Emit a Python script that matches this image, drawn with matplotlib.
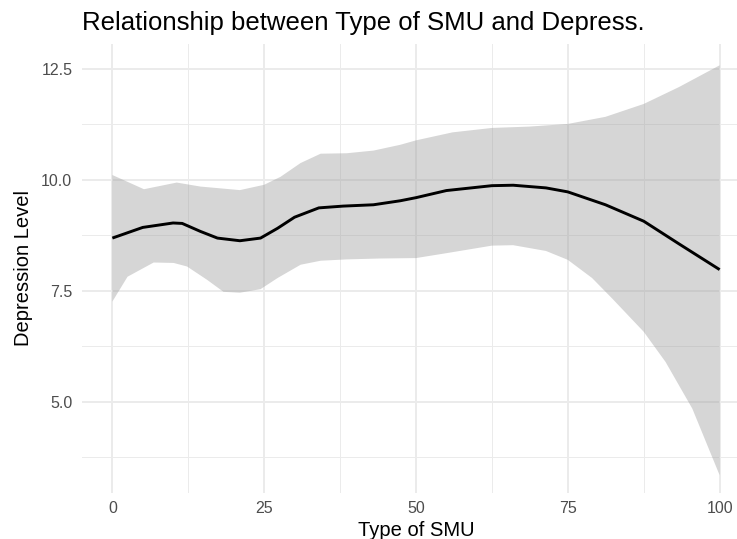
import numpy as np
import matplotlib
matplotlib.use('Agg')
import matplotlib.pyplot as plt
from matplotlib.ticker import MultipleLocator

# smooth fit
fit_x = [0, 5, 10, 11.5, 14.5, 17.3, 21, 24.4, 27.2, 30, 34, 38, 43, 47.4,
         50, 55, 62.5, 66, 71.4, 75, 81.2, 87.5, 93.3, 100]
fit_y = [8.69, 8.93, 9.03, 9.02, 8.84, 8.69, 8.63, 8.69, 8.91, 9.16, 9.37, 9.41, 9.44, 9.53,
         9.60, 9.76, 9.87, 9.88, 9.82, 9.73, 9.44, 9.07, 8.56, 7.98]

# confidence band, upper edge
upper_x = [0, 5.2, 10.6, 14.5, 21, 25, 27.7, 31, 34.3, 38.6, 43, 47.4,
           50, 56, 62.5, 68.6, 75, 81.2, 87.5, 93.3, 100]
upper_y = [10.11, 9.79, 9.94, 9.85, 9.77, 9.89, 10.07, 10.38, 10.59, 10.60, 10.66, 10.79,
           10.89, 11.07, 11.17, 11.20, 11.26, 11.42, 11.71, 12.09, 12.58]

# confidence band, lower edge
lower_x = [0, 2.5, 6.8, 10.1, 12.3, 15.6, 18.3, 21, 24.4, 27.2, 31, 34.3, 38.6, 44,
           50, 55, 62.5, 66, 71.4, 75, 79, 82.3, 87.5, 91.1, 95.5, 100]
lower_y = [7.26, 7.82, 8.14, 8.13, 8.05, 7.75, 7.48, 7.46, 7.54, 7.79, 8.09, 8.18, 8.21, 8.23,
           8.24, 8.35, 8.52, 8.53, 8.40, 8.20, 7.79, 7.33, 6.58, 5.90, 4.85, 3.35]

x_ticks = [0, 25, 50, 75, 100]
y_ticks = [5.0, 7.5, 10.0, 12.5]

plt.rcParams['font.family'] = ['Liberation Sans', 'DejaVu Sans']

fig = plt.figure(figsize=(7.37, 5.39), dpi=100)
ax = fig.add_axes([82/737, 46/539, (750-82)/737, (493-44)/539])

band_x = np.concatenate([upper_x, lower_x[::-1]])
band_y = np.concatenate([upper_y, lower_y[::-1]])
ax.fill(band_x, band_y, color='#999999', alpha=0.4, lw=0, zorder=2)
ax.plot(fit_x, fit_y, color='black', lw=2.1, zorder=3, solid_capstyle='butt',
        solid_joinstyle='round')

ax.set_xlim(-5, 105)
ax.set_ylim(2.95, 13.06)
ax.set_xticks(x_ticks)
ax.set_xticklabels([str(t) for t in x_ticks])
ax.set_yticks(y_ticks)
ax.set_yticklabels(['%.1f' % t for t in y_ticks])
ax.xaxis.set_minor_locator(MultipleLocator(12.5))
ax.yaxis.set_minor_locator(MultipleLocator(1.25))

ax.grid(which='major', color='#EBEBEB', lw=1.4, zorder=0)
ax.grid(which='minor', color='#EBEBEB', lw=0.7, zorder=0)
ax.set_axisbelow(True)
for s in ax.spines.values():
    s.set_visible(False)
ax.tick_params(which='both', length=0)
ax.tick_params(axis='x', pad=6, labelsize=11.5, labelcolor='#4D4D4D')
ax.tick_params(axis='y', pad=7, labelsize=11.5, labelcolor='#4D4D4D')

ax.set_xlabel('Type of SMU', fontsize=14.5, labelpad=3)
ax.set_ylabel('Depression Level', fontsize=14.5, labelpad=6)
ax.set_title('Relationship between Type of SMU and Depress.', loc='left',
             fontsize=18.5, pad=10)

fig.savefig('out.png', dpi=100)
